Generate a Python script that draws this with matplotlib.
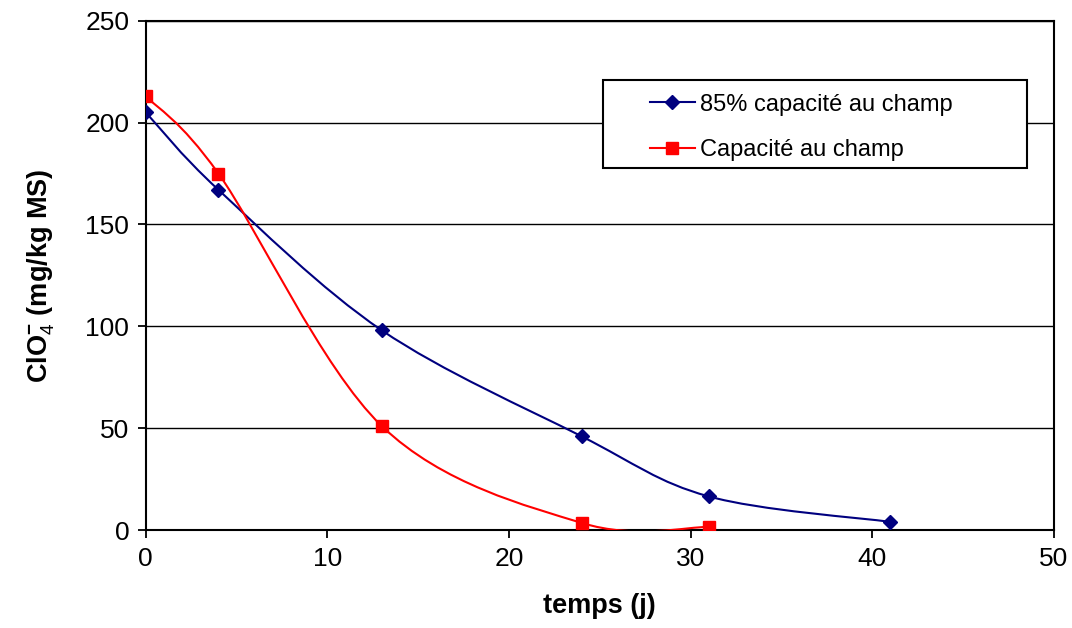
import numpy as np
import matplotlib
matplotlib.use("Agg")
import matplotlib.pyplot as plt
from matplotlib.path import Path
from matplotlib.patches import PathPatch, Rectangle

plt.rcParams["font.family"] = ["Liberation Sans", "DejaVu Sans"]
plt.rcParams["mathtext.fontset"] = "custom"
plt.rcParams["mathtext.rm"] = "Liberation Sans"
plt.rcParams["mathtext.it"] = "Liberation Sans:italic:bold"
plt.rcParams["mathtext.bf"] = "Liberation Sans:bold"

# données
jours_85 = [0, 4, 13, 24, 31, 41]
clo4_85 = [205, 167, 98, 46, 16.5, 4]
jours_cc = [0, 4, 13, 24, 31]
clo4_cc = [213, 175, 51, 3.5, 1.5]

label_85 = "85% capacité au champ"
label_cc = "Capacité au champ"
x_ticks = [0, 10, 20, 30, 40, 50]
y_ticks = [0, 50, 100, 150, 200, 250]


def courbe_lissee(x, y):
    # lissage type Excel : Bezier avec tangentes Catmull-Rom
    pts = np.column_stack([x, y]).astype(float)
    verts = [pts[0]]
    codes = [Path.MOVETO]
    n = len(pts)
    for i in range(n - 1):
        p0 = pts[max(i - 1, 0)]
        p1 = pts[i]
        p2 = pts[i + 1]
        p3 = pts[min(i + 2, n - 1)]
        verts += [p1 + (p2 - p0) / 6, p2 - (p3 - p1) / 6, p2]
        codes += [Path.CURVE4] * 3
    return Path(verts, codes)


fig = plt.figure(figsize=(10.72, 6.28), dpi=100)
ax = fig.add_axes([0.136, 0.156, 0.847, 0.811])

bleu = "#00007f"
rouge = "#ff0000"

ax.add_patch(PathPatch(courbe_lissee(jours_85, clo4_85), fill=False,
                       edgecolor=bleu, lw=1.5, zorder=3))
ax.add_patch(PathPatch(courbe_lissee(jours_cc, clo4_cc), fill=False,
                       edgecolor=rouge, lw=1.5, zorder=3))
ax.plot(jours_85, clo4_85, linestyle="none", marker="D", ms=7,
        color=bleu, zorder=4)
ax.plot(jours_cc, clo4_cc, linestyle="none", marker="s", ms=9,
        color=rouge, zorder=4)

# entrées de légende
ax.plot([], [], color=bleu, lw=1.5, marker="D", ms=7, label=label_85)
ax.plot([], [], color=rouge, lw=1.5, marker="s", ms=9, label=label_cc)

ax.set_xlim(0, 50)
ax.set_ylim(0, 250)
ax.set_xticks(x_ticks)
ax.set_yticks(y_ticks)
ax.yaxis.grid(True, color="black", lw=1)
ax.set_axisbelow(True)
for s in ax.spines.values():
    s.set_color("black")
    s.set_linewidth(1.5)
ax.tick_params(direction="out", length=6, width=1.3, labelsize=19, pad=6)

ax.set_xlabel("temps (j)", fontsize=19.5, fontweight="bold", labelpad=16)
ax.set_ylabel(r"ClO$_{\it{4}}^{\mathbf{-}}$ (mg/kg MS)", fontsize=19.5,
              fontweight="bold", labelpad=20)

# cadre de la légende (style Excel)
ax.add_patch(Rectangle((0.504, 0.711), 0.466, 0.173, transform=ax.transAxes,
                       facecolor="white", edgecolor="black", lw=1.5, zorder=5))
leg = ax.legend(loc="upper left", bbox_to_anchor=(0.555, 0.857), fontsize=17,
                frameon=False, borderpad=0, labelspacing=1.0,
                handlelength=1.9, handletextpad=0.25, borderaxespad=0)
leg.set_zorder(6)

fig.savefig("out.png", dpi=100)
